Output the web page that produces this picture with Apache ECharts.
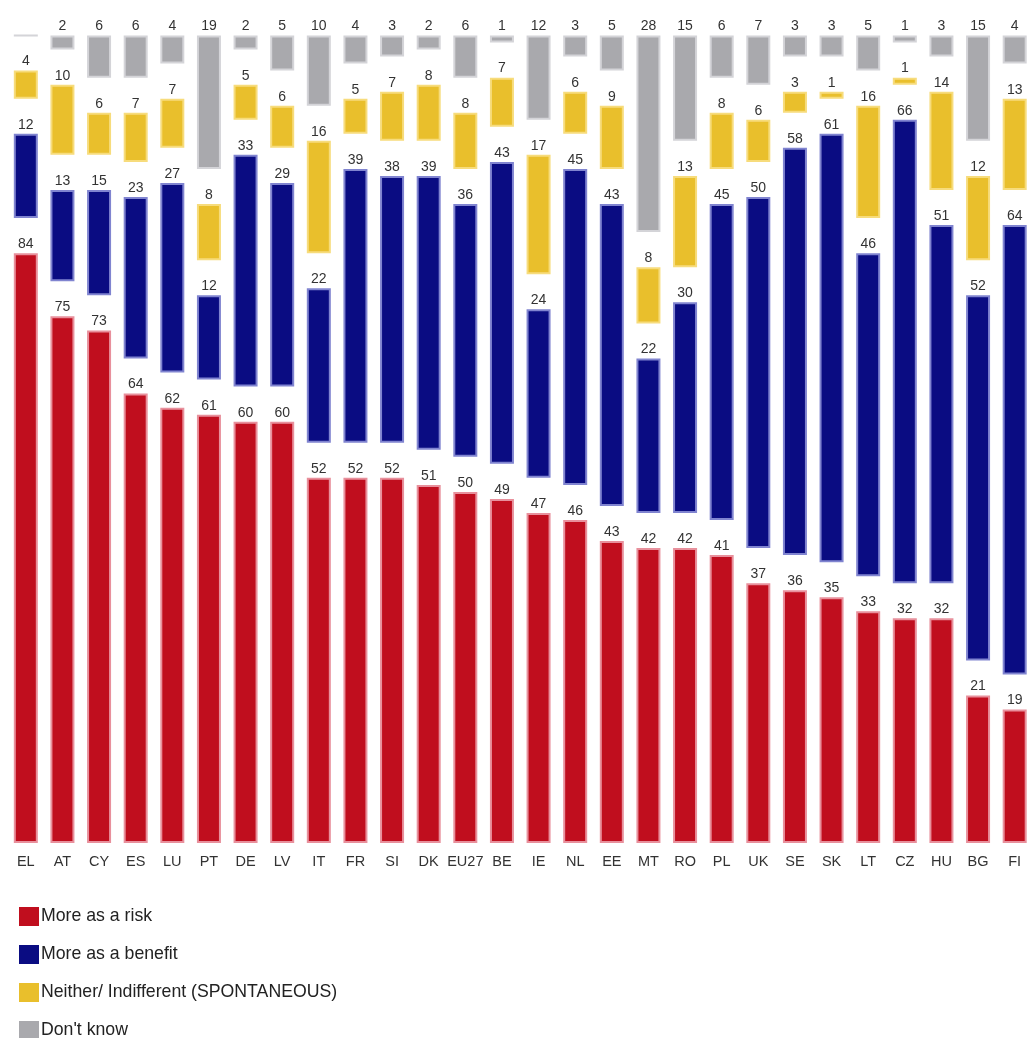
<!DOCTYPE html>
<html>
<head>
<meta charset="utf-8">
<script src="https://cdn.jsdelivr.net/npm/echarts@6/dist/echarts.min.js"></script>
<style>
html,body{margin:0;padding:0;background:#fff;}
#chart{width:1033px;height:1038px;}
</style>
</head>
<body>
<div id="chart"></div>
<script>
const categories = ['EL','AT','CY','ES','LU','PT','DE','LV','IT','FR','SI','DK','EU27','BE','IE','NL','EE','MT','RO','PL','UK','SE','SK','LT','CZ','HU','BG','FI'];
const risk     = [84,75,73,64,62,61,60,60,52,52,52,51,50,49,47,46,43,42,42,41,37,36,35,33,32,32,21,19];
const benefit  = [12,13,15,23,27,12,33,29,22,39,38,39,36,43,24,45,43,22,30,45,50,58,61,46,66,51,52,64];
const neither  = [4,10,6,7,7,8,5,6,16,5,7,8,8,7,17,6,9,8,13,8,6,3,1,16,1,14,12,13];
const dontKnow = [0,2,6,6,4,19,2,5,10,4,3,2,6,1,12,3,5,28,15,6,7,3,3,5,1,3,15,4];
const seriesNames = ['More as a risk','More as a benefit','Neither/ Indifferent (SPONTANEOUS)',"Don't know"];

const GAP = 5; // visual spacing between stacked segments (layout only)
const FONT = '"Liberation Sans", Arial, sans-serif';

const fills   = ['#c00e1e','#0a0c82','#e9bf2c','#a9a9ad'];
const borders = ['#e8909c','#8084d0','#f7dc7c','#d4d4d8'];
const values  = [risk, benefit, neither, dontKnow];

const series = [];
values.forEach((vals, i) => {
  if (i > 0) {
    series.push({
      type: 'bar', stack: 's', name: 'gap' + i, silent: true,
      barWidth: 24,
      data: categories.map(() => GAP),
      itemStyle: { color: 'transparent', borderWidth: 0 },
      label: { show: false }
    });
  }
  series.push({
    type: 'bar', stack: 's', name: seriesNames[i],
    barWidth: 24,
    data: vals,
    itemStyle: { color: fills[i], borderColor: borders[i], borderWidth: 2 },
    label: {
      show: true, position: 'top', distance: 2,
      fontFamily: FONT, fontSize: 14, color: '#333',
      formatter: p => (p.value === 0 ? '' : String(p.value))
    }
  });
});

const chart = echarts.init(document.getElementById('chart'), null, { renderer: 'canvas' });
chart.setOption({
  animation: false,
  backgroundColor: '#ffffff',
  grid: { left: 7.5, right: -10.5, top: 35.5, bottom: 195, containLabel: false },
  xAxis: {
    type: 'category', data: categories,
    axisLine: { show: false }, axisTick: { show: false },
    axisLabel: { fontFamily: FONT, fontSize: 14.5, color: '#333', margin: 11, interval: 0 }
  },
  yAxis: { type: 'value', min: 0, max: 115, show: false, splitLine: { show: false } },
  legend: {
    data: seriesNames,
    orient: 'vertical', left: 14, top: 902, height: 200,
    itemWidth: 20, itemHeight: 19, itemGap: 19,
    icon: 'rect',
    itemStyle: { borderWidth: 0 },
    textStyle: { fontFamily: FONT, fontSize: 17.7, color: '#222', padding: [0,0,0,-3] }
  },
  series: series
});
</script>
</body>
</html>
